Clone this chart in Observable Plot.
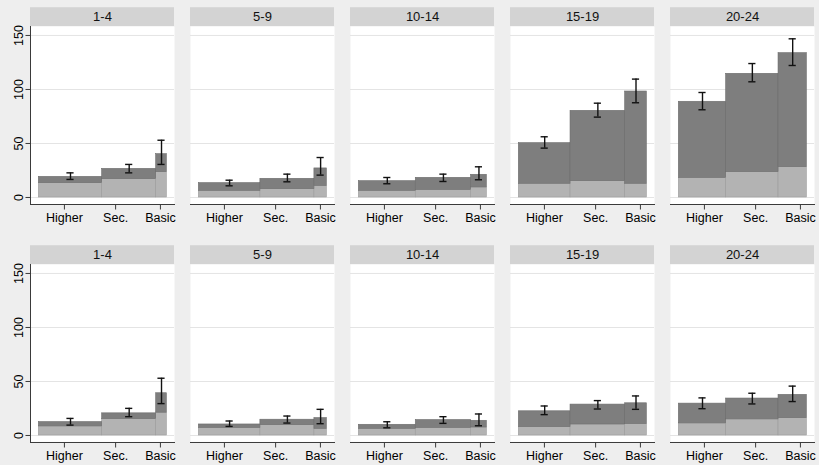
<!DOCTYPE html>
<html><head><meta charset="utf-8">
<script src="https://cdn.jsdelivr.net/npm/d3@7"></script>
<script src="https://cdn.jsdelivr.net/npm/@observablehq/plot@0.6"></script>
<style>
html,body{margin:0;padding:0;background:#eeeeee;}
#chart{width:819px;height:465px;}
</style></head><body><div id="chart"></div>
<script>
const ageGroups = ["1-4","5-9","10-14","15-19","20-24"];
const educLevels = ["Higher","Sec.","Basic"];
const panelRows = ["upper","lower"];
const xTicks = [20,60,95];
const yTicks = [0,50,100,150];
// composition shares (%) of Higher, Sec., Basic in each age group (bar widths)
const shareHigher = [49.5,48.1,44.5,40.4,37.0];
const shareSec    = [42.2,42.2,43.2,42.7,40.9];
const shareBasic  = [8.3,9.7,12.3,16.9,22.1];
// upper row: light part, total height, CI low, CI high  [age][educ]
const upperLight = [[13.3,17.0,23.5],[6.2,7.7,10.8],[6.2,7.1,9.3],[12.7,15.1,12.7],[18.2,23.5,28.1]];
const upperTotal = [[19.1,26.5,40.1],[13.3,17.3,26.9],[15.1,18.2,21.0],[50.3,80.2,98.1],[88.6,114.5,133.6]];
const upperLow   = [[16.7,22.8,30.6],[10.8,14.5,20.7],[12.7,14.8,16.4],[45.7,74.4,87.7],[81.2,107.1,122.2]];
const upperHigh  = [[22.8,30.6,53.0],[16.0,21.6,37.0],[18.5,21.6,28.4],[56.2,87.3,109.6],[97.2,124.0,146.9]];
// lower row
const lowerLight = [[8.4,15.2,21.1],[7.1,9.6,6.2],[6.2,7.1,7.4],[7.8,10.2,10.6],[11.2,14.9,16.1]];
const lowerTotal = [[12.4,20.5,39.1],[10.2,14.6,16.1],[9.9,14.3,13.6],[22.4,28.6,29.8],[29.5,34.2,37.6]];
const lowerLow   = [[9.6,17.4,29.5],[8.4,11.5,10.9],[7.1,11.2,9.0],[19.3,24.5,24.2],[24.8,29.2,31.4]];
const lowerHigh  = [[15.8,25.1,53.0],[13.4,18.0,24.2],[12.7,17.4,19.9],[27.3,32.3,36.6],[34.8,39.1,45.7]];

const seriesByRow = {
  upper: [upperLight, upperTotal, upperLow, upperHigh],
  lower: [lowerLight, lowerTotal, lowerLow, lowerHigh]
};
const data = [];
panelRows.forEach(r => {
  const [L, T, Lo, Hi] = seriesByRow[r];
  ageGroups.forEach((age, a) => {
    const sh = [shareHigher[a], shareSec[a], shareBasic[a]];
    let cum = 0;
    educLevels.forEach((e, k) => {
      const x1 = cum, x2 = cum + sh[k];
      cum = x2;
      data.push({row: r, age, educ: e, x1, x2, mid: (x1 + x2) / 2,
                 light: L[a][k], total: T[a][k], lo: Lo[a][k], hi: Hi[a][k]});
    });
  });
});
const headers = data.filter(d => d.educ === "Higher");

const xDomain = [-6.5, 106];
const yDomain = [-6.5, 158.3];
const stripUnits = 17.4;
const cap = 2.8;
const ink = "#111";
const axisInk = "#3a3a3a";

const chart = Plot.plot({
  width: 819, height: 465,
  marginLeft: 30, marginRight: 5, marginTop: 26, marginBottom: 23,
  style: {background: "#eeeeee", fontFamily: "'Liberation Sans', Arial, Helvetica, sans-serif", fontSize: "12.5px", color: "#000"},
  fx: {domain: ageGroups, paddingInner: 0.1, paddingOuter: 0, axis: null, round: false},
  fy: {domain: panelRows, paddingInner: 0.2521, paddingOuter: 0, axis: null, round: false},
  x: {domain: xDomain, axis: null},
  y: {domain: yDomain, axis: null},
  marks: [
    Plot.frame({fill: "white", stroke: "none"}),
    Plot.ruleY(yTicks, {stroke: "#e4e4e4", strokeWidth: 1}),
    Plot.rect(headers, {fx: "age", fy: "row", x1: xDomain[0], x2: xDomain[1], y1: yDomain[1], y2: yDomain[1] + stripUnits, fill: "#d3d3d3"}),
    Plot.text(headers, {fx: "age", fy: "row", text: "age", x: (xDomain[0] + xDomain[1]) / 2, y: yDomain[1] + stripUnits / 2, lineAnchor: "middle", textAnchor: "middle", fontSize: 13, fill: ink}),
    Plot.rect(data, {fx: "age", fy: "row", x1: "x1", x2: "x2", y1: 0, y2: "light", fill: "#b3b3b3", stroke: "#9c9c9c", strokeWidth: 0.6}),
    Plot.rect(data, {fx: "age", fy: "row", x1: "x1", x2: "x2", y1: "light", y2: "total", fill: "#7e7e7e", stroke: "#6c6c6c", strokeWidth: 0.6}),
    Plot.ruleX(data, {fx: "age", fy: "row", x: "mid", y1: "lo", y2: "hi", stroke: ink, strokeWidth: 1.4}),
    Plot.ruleY(data, {fx: "age", fy: "row", y: "lo", x1: d => d.mid - cap, x2: d => d.mid + cap, stroke: ink, strokeWidth: 1.4}),
    Plot.ruleY(data, {fx: "age", fy: "row", y: "hi", x1: d => d.mid - cap, x2: d => d.mid + cap, stroke: ink, strokeWidth: 1.4}),
    Plot.frame({anchor: "bottom", stroke: axisInk, facetAnchor: null}),
    Plot.frame({anchor: "left", stroke: axisInk, facetAnchor: "left"}),
    Plot.axisX(xTicks, {facetAnchor: null, tickFormat: d => educLevels[xTicks.indexOf(d)], tickSize: 5.5, tickPadding: 3.5, stroke: axisInk, fill: "#000", fontSize: 12.5, label: null}),
    Plot.axisY(yTicks, {tickRotate: -90, tickSize: 4.5, tickPadding: 3, stroke: axisInk, fill: "#000", fontSize: 12.5, label: null})
  ]
});
document.getElementById("chart").appendChild(chart);
</script></body></html>
